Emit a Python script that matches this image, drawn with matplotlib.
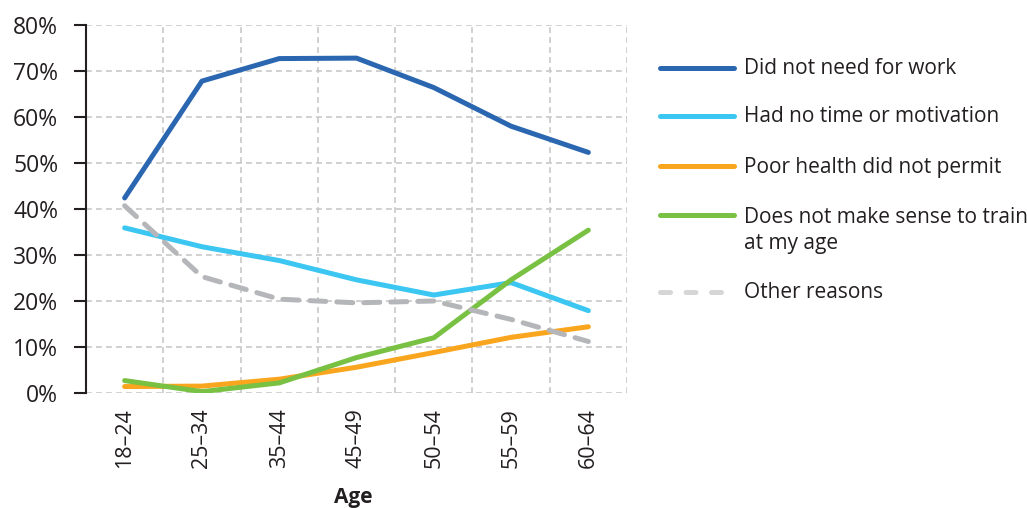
import matplotlib
matplotlib.use("Agg")
import matplotlib.pyplot as plt
from matplotlib.lines import Line2D
from matplotlib.ticker import FuncFormatter, MultipleLocator

plt.rcParams["font.family"] = ["Open Sans", "DejaVu Sans"]

# Age groups and share of respondents (%) giving each reason
age_groups = ["18–24", "25–34", "35–44", "45–49", "50–54", "55–59", "60–64"]
did_not_need = [42.4, 67.8, 72.7, 72.8, 66.4, 58.0, 52.3]
no_time = [35.9, 31.8, 28.8, 24.6, 21.3, 24.0, 17.9]
poor_health = [1.4, 1.5, 3.0, 5.6, 8.8, 12.1, 14.4]
no_sense = [2.7, 0.3, 2.2, 7.7, 12.0, 24.6, 35.4]
other = [40.7, 25.3, 20.4, 19.6, 20.0, 16.0, 11.2]

series_labels = [
    "Did not need for work",
    "Had no time or motivation",
    "Poor health did not permit",
    "Does not make sense to train\nat my age",
    "Other reasons",
]
series_values = [did_not_need, no_time, poor_health, no_sense, other]
series_colors = ["#2B67B1", "#3CC6F2", "#F9A51E", "#78C142", "#B5B6B9"]
legend_colors = ["#2B67B1", "#3CC6F2", "#F9A51E", "#78C142", "#D6D6D6"]

W, H = 1027, 508
fig = plt.figure(figsize=(W / 100, H / 100), dpi=100)
ax = fig.add_axes([86 / W, (H - 393) / H, (627 - 86) / W, (393 - 25) / H])

x = list(range(len(age_groups)))
lw = 3.6
for vals, col, lab in zip(series_values, series_colors, series_labels):
    if lab == "Other reasons":
        ax.plot(x, vals, color=col, lw=lw, linestyle=(0, (3.2, 2.2)),
                dash_capstyle="round", solid_capstyle="round", zorder=3)
    else:
        ax.plot(x, vals, color=col, lw=lw, solid_capstyle="round",
                solid_joinstyle="round", zorder=3)

ax.set_xlim(-0.5, len(age_groups) - 0.5)
ax.set_ylim(0, 80)
ax.yaxis.set_major_locator(MultipleLocator(10))
ax.yaxis.set_major_formatter(FuncFormatter(lambda v, p: f"{v:.0f}%"))

# gridlines: horizontal at each 10%, vertical at category boundaries
grid_kw = dict(color="#C8C8C8", lw=1.2, linestyle=(0, (3.5, 2.5)), zorder=1)
for yv in range(0, 81, 10):
    ax.axhline(yv, **grid_kw)
for b in range(len(age_groups)):
    ax.axvline(b + 0.5, **grid_kw)

for s in ["top", "right", "bottom"]:
    ax.spines[s].set_visible(False)
ax.spines["left"].set_color("#231F20")
ax.spines["left"].set_linewidth(1.5)
ax.spines["left"].set_zorder(4)

ax.set_xticks(x)
ax.set_xticklabels(age_groups, rotation=90, fontsize=15.5, color="#231F20")
ax.tick_params(axis="x", length=0, pad=11)
ax.tick_params(axis="y", length=9, width=1.5, color="#231F20",
               labelsize=16.5, labelcolor="#231F20", pad=11)

fig.text(353 / W, 1 - 497 / H, "Age", ha="center", va="center",
         fontsize=15, fontweight="bold", color="#231F20")

# legend drawn at the right of the plot
rows_y = [68, 116, 166, 215, 292]
for yy, col, lab in zip(rows_y, legend_colors, series_labels):
    fy = 1 - yy / H
    if lab == "Other reasons":
        ln = Line2D([660 / W, 734 / W], [fy, fy], color=col, lw=lw,
                    linestyle=(0, (2.0, 3.1)), dash_capstyle="round",
                    transform=fig.transFigure)
    else:
        ln = Line2D([660 / W, 734 / W], [fy, fy], color=col, lw=lw,
                    solid_capstyle="round", transform=fig.transFigure)
    fig.add_artist(ln)
    if "\n" in lab:
        fig.text(744 / W, fy + 8 / H, lab, ha="left", va="top",
                 fontsize=15, color="#231F20", linespacing=1.3)
    else:
        fig.text(744 / W, fy - 1 / H, lab, ha="left", va="center",
                 fontsize=15, color="#231F20")

fig.savefig("out.png", dpi=100)
